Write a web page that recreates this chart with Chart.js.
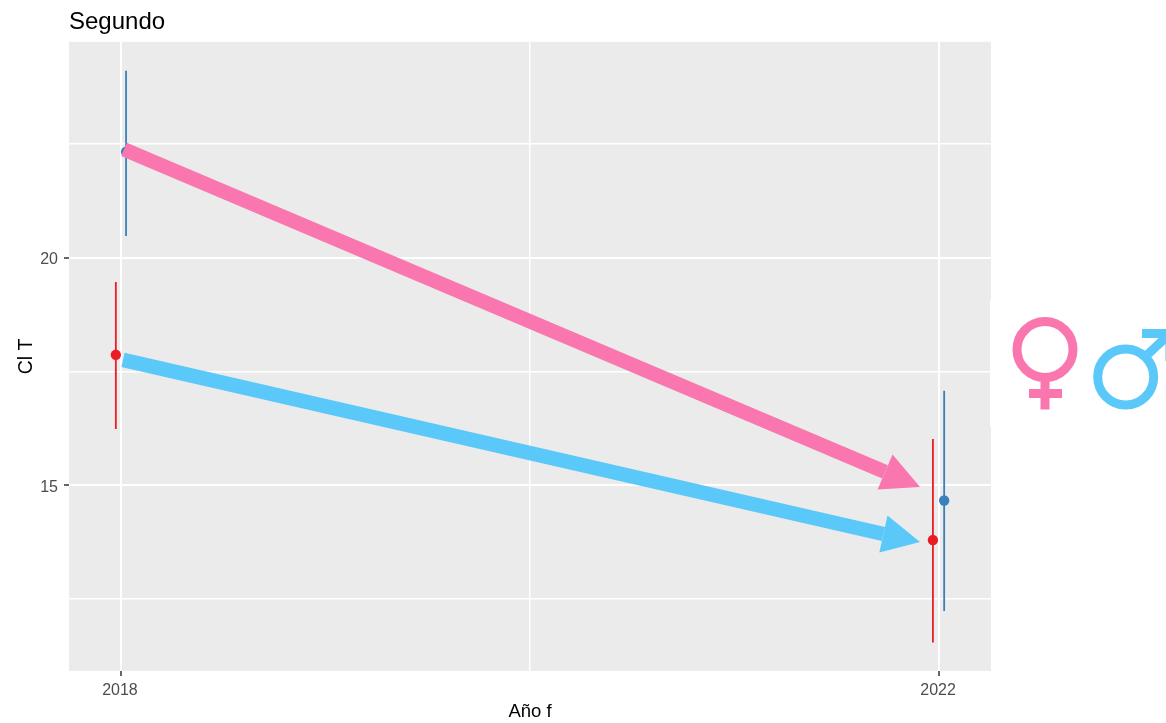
<!DOCTYPE html>
<html>
<head>
<meta charset="utf-8">
<style>
  html, body { margin: 0; padding: 0; background: #fff; }
  canvas { display: block; }
</style>
</head>
<body>
<canvas id="grafico" width="1166" height="723"></canvas>
<script src="https://cdn.jsdelivr.net/npm/chart.js@4"></script>
<script>
// ticks
const xTicks = [2018, 2020, 2022];
const xLabels = ['2018', '', '2022'];
const yTicks = [12.5, 15, 17.5, 20, 22.5];
const yLabels = ['', '15', '', '20', ''];

// puntos con su intervalo
const rojoX = [2017.975, 2021.97];
const rojoMedia = [17.87, 13.80];
const rojoAlto = [19.47, 16.02];
const rojoBajo = [16.24, 11.55];

const azulX = [2018.025, 2022.025];
const azulMedia = [22.33, 14.67];
const azulAlto = [24.11, 17.08];
const azulBajo = [20.48, 12.24];

// flechas: inicio, base de la punta, punta
const flechaRosaX = [2018.015, 2021.736, 2021.907];
const flechaRosaY = [22.385, 15.297, 14.967];
const flechaCelesteX = [2018.01, 2021.728, 2021.907];
const flechaCelesteY = [17.758, 13.934, 13.758];

const ROJO = '#EC1C24';
const AZUL = '#3A80BC';
const ROSA = '#F977AE';
const CELESTE = '#5BC8FA';

function barra(x, bajo, alto, color) {
  return {
    type: 'line',
    data: [{ x: x, y: bajo }, { x: x, y: alto }],
    borderColor: color,
    borderWidth: 1.8,
    borderCapStyle: 'butt',
    pointRadius: 0
  };
}

function medias(xs, ys, color) {
  return {
    type: 'scatter',
    data: xs.map((x, i) => ({ x: x, y: ys[i] })),
    backgroundColor: color,
    borderColor: color,
    pointRadius: 5.2,
    borderWidth: 0
  };
}

function cuerpoFlecha(xs, ys, color) {
  return {
    type: 'line',
    data: [{ x: xs[0], y: ys[0] }, { x: xs[1], y: ys[1] }],
    borderColor: color,
    borderWidth: 14.5,
    borderCapStyle: 'butt',
    pointRadius: 0
  };
}

// el primero del arreglo queda encima
const datasets = [
  cuerpoFlecha(flechaRosaX, flechaRosaY, ROSA),
  cuerpoFlecha(flechaCelesteX, flechaCelesteY, CELESTE),
  medias(rojoX, rojoMedia, ROJO),
  medias(azulX, azulMedia, AZUL),
  barra(rojoX[0], rojoBajo[0], rojoAlto[0], ROJO),
  barra(rojoX[1], rojoBajo[1], rojoAlto[1], ROJO),
  barra(azulX[0], azulBajo[0], azulAlto[0], AZUL),
  barra(azulX[1], azulBajo[1], azulAlto[1], AZUL)
];

const fondoPanel = {
  id: 'fondoPanel',
  beforeDraw(chart) {
    const { ctx, chartArea: a } = chart;
    ctx.save();
    ctx.fillStyle = '#EBEBEB';
    ctx.fillRect(a.left, a.top, a.right - a.left, a.bottom - a.top);
    ctx.restore();
  }
};

function punta(chart, xs, ys, color) {
  const { ctx, scales } = chart;
  const bx = scales.x.getPixelForValue(xs[1]);
  const by = scales.y.getPixelForValue(ys[1]);
  const tx = scales.x.getPixelForValue(xs[2]);
  const ty = scales.y.getPixelForValue(ys[2]);
  const largo = Math.hypot(tx - bx, ty - by);
  const nx = -(ty - by) / largo;
  const ny = (tx - bx) / largo;
  const ancho = 19;
  ctx.fillStyle = color;
  ctx.beginPath();
  ctx.moveTo(tx, ty);
  ctx.lineTo(bx + nx * ancho, by + ny * ancho);
  ctx.lineTo(bx - nx * ancho, by - ny * ancho);
  ctx.closePath();
  ctx.fill();
}

const puntas = {
  id: 'puntas',
  afterDatasetsDraw(chart) {
    chart.ctx.save();
    punta(chart, flechaRosaX, flechaRosaY, ROSA);
    punta(chart, flechaCelesteX, flechaCelesteY, CELESTE);
    chart.ctx.restore();
  }
};

// simbolos de femenino y masculino a la derecha del panel
const simbolos = {
  id: 'simbolos',
  afterDraw(chart) {
    const ctx = chart.ctx;
    ctx.save();
    ctx.fillStyle = '#fff';
    ctx.fillRect(990, 300, 176, 127);
    ctx.lineWidth = 9;
    ctx.lineCap = 'butt';
    ctx.lineJoin = 'miter';

    ctx.strokeStyle = ROSA;
    ctx.beginPath();
    ctx.arc(1045, 349.5, 28, 0, Math.PI * 2);
    ctx.moveTo(1045, 381);
    ctx.lineTo(1045, 409.5);
    ctx.moveTo(1029, 393.5);
    ctx.lineTo(1062, 393.5);
    ctx.stroke();

    ctx.strokeStyle = CELESTE;
    ctx.beginPath();
    ctx.arc(1125.7, 377, 28, 0, Math.PI * 2);
    ctx.stroke();
    ctx.beginPath();
    ctx.moveTo(1146, 356);
    ctx.lineTo(1170, 333.5);
    ctx.stroke();
    ctx.beginPath();
    ctx.moveTo(1142, 333.5);
    ctx.lineTo(1170, 333.5);
    ctx.lineTo(1170, 361);
    ctx.stroke();
    ctx.restore();
  }
};

function ponerTicks(valores) {
  return scale => { scale.ticks = valores.map(v => ({ value: v })); };
}

const esMayor = (lista, valor) => lista[valor] !== undefined && lista[valor] !== '';

new Chart(document.getElementById('grafico').getContext('2d'), {
  data: { datasets: datasets },
  plugins: [fondoPanel, puntas, simbolos],
  options: {
    responsive: false,
    animation: false,
    devicePixelRatio: 1,
    font: { family: '"Liberation Sans", Arial, sans-serif' },
    layout: { padding: { left: 0, right: 175, top: 0, bottom: 0 } },
    plugins: {
      legend: { display: false },
      tooltip: { enabled: false },
      title: {
        display: true,
        text: 'Segundo',
        align: 'start',
        fullSize: false,
        color: '#000',
        font: { family: '"Liberation Sans", Arial, sans-serif', size: 24, weight: 'normal' },
        padding: { top: 8, bottom: 5 }
      }
    },
    scales: {
      x: {
        type: 'linear',
        min: 2017.746,
        max: 2022.254,
        afterBuildTicks: ponerTicks(xTicks),
        afterFit: s => { s.height = 52; },
        border: { display: false },
        grid: {
          color: '#fff',
          lineWidth: c => (c.tick && esMayor(xLabels, xTicks.indexOf(c.tick.value)) ? 2 : 1.5),
          tickColor: c => (c.tick && esMayor(xLabels, xTicks.indexOf(c.tick.value)) ? '#333' : 'transparent'),
          tickWidth: 1.5,
          tickLength: 5
        },
        ticks: {
          autoSkip: false,
          maxRotation: 0,
          padding: 4.5,
          labelOffset: -1,
          color: '#4D4D4D',
          font: { size: 16 },
          callback: v => xLabels[xTicks.indexOf(v)]
        },
        title: {
          display: true,
          text: 'Año f',
          color: '#000',
          font: { size: 18.5 },
          padding: { top: 5, bottom: 0 }
        }
      },
      y: {
        type: 'linear',
        min: 10.923,
        max: 24.747,
        afterBuildTicks: ponerTicks(yTicks),
        afterFit: s => { s.width = 69; },
        border: { display: false },
        grid: {
          color: '#fff',
          lineWidth: c => (c.tick && esMayor(yLabels, yTicks.indexOf(c.tick.value)) ? 2 : 1.5),
          tickColor: c => (c.tick && esMayor(yLabels, yTicks.indexOf(c.tick.value)) ? '#333' : 'transparent'),
          tickWidth: 1.5,
          tickLength: 5
        },
        ticks: {
          autoSkip: false,
          padding: 6,
          labelOffset: 2,
          color: '#4D4D4D',
          font: { size: 16 },
          callback: v => yLabels[yTicks.indexOf(v)]
        },
        title: {
          display: true,
          text: 'Cl T',
          color: '#000',
          font: { size: 19.5 },
          padding: { top: 15, bottom: 0 }
        }
      }
    }
  }
});
</script>
</body>
</html>
